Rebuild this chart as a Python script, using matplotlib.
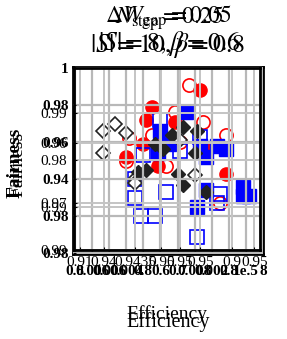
import matplotlib
matplotlib.use('Agg')
import matplotlib.pyplot as plt

plt.rcParams['font.family'] = 'Liberation Serif'
plt.rcParams['mathtext.fontset'] = 'stix'

# DATOS (eficiencia, equidad)
rojo_lleno_x = [0.938, 0.921, 0.919, 0.933, 0.929, 0.918, 0.912, 0.923, 0.939, 0.947, 0.947]
rojo_lleno_y = [0.988, 0.979, 0.972, 0.976, 0.971, 0.959, 0.952, 0.947, 0.958, 0.957, 0.943]
rojo_vacio_x = [0.934, 0.939, 0.947, 0.913, 0.912, 0.926, 0.931, 0.945, 0.929, 0.921]
rojo_vacio_y = [0.991, 0.971, 0.964, 0.962, 0.950, 0.947, 0.960, 0.927, 0.976, 0.964]
azul_lleno_x = [0.933, 0.924, 0.938, 0.940, 0.944, 0.947, 0.953, 0.955, 0.937, 0.940, 0.927, 0.923, 0.953]
azul_lleno_y = [0.976, 0.966, 0.958, 0.952, 0.958, 0.956, 0.936, 0.931, 0.925, 0.934, 0.959, 0.954, 0.931]
azul_vacio_x = [0.924, 0.931, 0.918, 0.915, 0.915, 0.926, 0.917, 0.922, 0.937, 0.945, 0.944, 0.938, 0.928]
azul_vacio_y = [0.972, 0.955, 0.953, 0.940, 0.930, 0.933, 0.920, 0.920, 0.909, 0.932, 0.927, 0.963, 0.961]
negro_lleno_x = [0.932, 0.937, 0.922, 0.925, 0.936, 0.919, 0.916, 0.930, 0.932, 0.940, 0.928]
negro_lleno_y = [0.968, 0.966, 0.959, 0.956, 0.954, 0.945, 0.944, 0.943, 0.937, 0.933, 0.964]
negro_vacio_x = [0.904, 0.908, 0.912, 0.904, 0.936, 0.931, 0.915, 0.915]
negro_vacio_y = [0.966, 0.970, 0.965, 0.954, 0.942, 0.961, 0.940, 0.938]

# ticks de las dos capas (se enciman, como en la figura original)
yticks_a = [0.90, 0.92, 0.94, 0.96, 0.98, 1.0]
ylabels_a = ['0.98', '0.98', '0.94', '0.96', '0.98', '1']
yticks_b = [0.0, 0.236, 0.26, 0.495, 0.588, 0.753]
ylabels_b = ['0.99', '0.99', '0.97', '0.98', '0.96', '0.99']
xticks_a = [0.894, 0.900, 0.906, 0.912, 0.918, 0.924, 0.930, 0.936, 0.942, 0.948, 0.954, 0.960]
xlabels_a = ['0.8', '0.006', '0.006', '0.004', '0.8', '0.6', '0.7', '0.008', '0.002', '0.8', '1e.5', '8']
xticks_b = [0.03, 0.16, 0.33, 0.47, 0.57, 0.68, 0.85, 0.97]
xlabels_b = ['0.91', '0.94', '0.9435', '0.95', '0.95', '0.95', '0.9', '0.95']

fig = plt.figure(figsize=(2.87, 3.39), dpi=100)
ax = fig.add_axes([0.2544, 0.2507, 0.662, 0.5516])
ax.set_xlim(0.8933, 0.96)
ax.set_ylim(0.8996, 1.0005)

ms = 9.5
ax.plot(rojo_vacio_x, rojo_vacio_y, 'o', ms=ms, mfc='none', mec='red', mew=1.2, ls='none')
ax.plot(rojo_lleno_x, rojo_lleno_y, 'o', ms=ms, color='red', ls='none')
ax.plot(azul_vacio_x, azul_vacio_y, 's', ms=ms, mfc='none', mec='blue', mew=1.2, ls='none')
ax.plot(azul_lleno_x, azul_lleno_y, 's', ms=ms, color='blue', ls='none')
ax.plot(negro_vacio_x, negro_vacio_y, 'D', ms=7.5, mfc='white', mec='#222222', mew=1.2, ls='none')
ax.plot(negro_lleno_x, negro_lleno_y, 'D', ms=7.5, color='#222222', ls='none')

ax.set_yticks(yticks_a)
ax.set_yticklabels(ylabels_a, fontsize=11, fontweight='bold')
ax.set_xticks(xticks_a)
ax.set_xticklabels(xlabels_a, fontsize=11, fontweight='bold')
ax.tick_params(axis='y', direction='in', length=2, pad=3)
ax.tick_params(axis='x', direction='in', length=2, pad=8)
ax.grid(True, color='#b8b8b8', lw=1.6)
ax.set_axisbelow(False)
for s in ax.spines.values():
    s.set_linewidth(2)
ax.set_xlabel('Efficiency', fontsize=14.5)
ax.xaxis.set_label_coords(0.5, -0.31)
ax.set_ylabel('Fairness', fontsize=14, fontweight='bold')
ax.yaxis.set_label_coords(-0.258, 0.49)

# segunda capa encima, un poco corrida
ax2 = fig.add_axes([0.2578, 0.2625, 0.648, 0.537])
ax2.patch.set_alpha(0)
ax2.set_xlim(0, 1)
ax2.set_ylim(0, 1)
ax2.set_yticks(yticks_b)
ax2.set_yticklabels(ylabels_b, fontsize=11)
ax2.set_xticks(xticks_b)
ax2.set_xticklabels(xlabels_b, fontsize=11)
ax2.tick_params(axis='y', direction='in', length=2, pad=5)
ax2.tick_params(axis='x', direction='in', length=2, pad=4)
ax2.grid(True, color='#c4c4c4', lw=1.4)
for s in ax2.spines.values():
    s.set_linewidth(2)
ax2.set_xlabel('Efficiency', fontsize=14)
ax2.xaxis.set_label_coords(0.5, -0.3)
ax2.set_ylabel('Fairness', fontsize=14)
ax2.yaxis.set_label_coords(-0.255, 0.47)

# titulos encimados
fig.text(0.585, 0.867, '$|S|=10, \\beta=0.8$', fontsize=18.5, ha='center', va='center')
fig.text(0.59, 0.872, '$|S|=8, \\beta=0.6$', fontsize=18.5, ha='center', va='center')
fig.text(0.585, 0.947, '$\\Delta W_{\\rm gap}=0.05$', fontsize=17, ha='center', va='center')
fig.text(0.59, 0.945, '$N_{\\rm step}=0.25$', fontsize=17, ha='center', va='center')

fig.savefig('out.png', dpi=100)
